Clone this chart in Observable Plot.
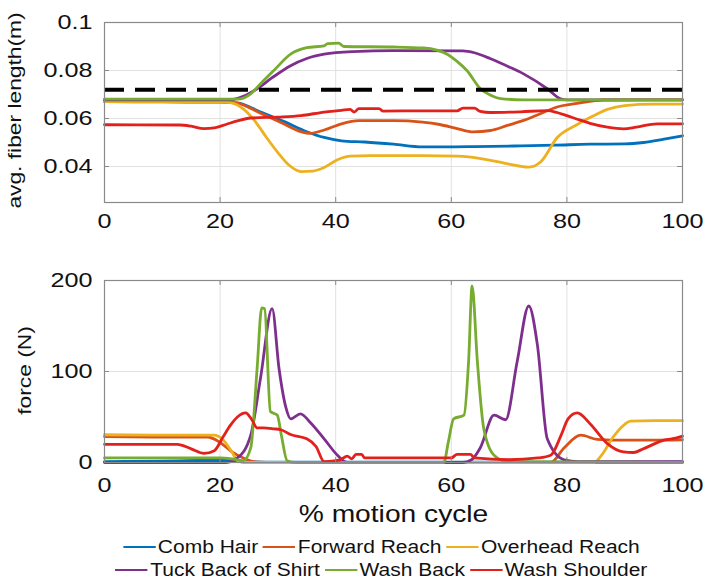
<!DOCTYPE html>
<html>
<head>
<meta charset="utf-8">
<script src="https://cdn.jsdelivr.net/npm/d3@7"></script>
<script src="https://cdn.jsdelivr.net/npm/@observablehq/plot@0.6"></script>
<style>
  html, body { margin: 0; padding: 0; background: #fff; }
  #page { position: relative; width: 705px; height: 581px; overflow: hidden; background: #fff; font-family: "Liberation Sans", Arial, sans-serif; }
  #page svg text { font-family: "Liberation Sans", Arial, sans-serif; fill: #111; }
  #top { position: absolute; left: 0; top: 0; }
  #bottom { position: absolute; left: 0; top: 240px; }
  .lrow { position: absolute; left: 0; width: 758px; height: 23px; display: flex; justify-content: center; align-items: center;
          transform: scaleX(1.2); transform-origin: 50% 50%; font-size: 17.5px; color: #111; white-space: nowrap; }
  .sw { display: inline-block; width: 27px; height: 2.5px; margin-right: 2px; margin-left: 4px; }
</style>
</head>
<body>
<div id="page">
  <div id="top"></div>
  <div id="bottom"></div>
  <div id="legend"></div>
</div>
<script>
// ---------- data ----------
const xTicks = [0, 20, 40, 60, 80, 100];
const fiberTicks = [0.04, 0.06, 0.08, 0.1];
const forceTicks = [0, 100, 200];
const fiberLabel = "avg. fiber length(m)";
const forceLabel = "force (N)";
const xLabel = "% motion cycle";
const threshold = 0.072;

const seriesNames = ["Comb Hair", "Forward Reach", "Overhead Reach", "Tuck Back of Shirt", "Wash Back", "Wash Shoulder"];
const seriesColors = ["#0072BD", "#D95319", "#EDB120", "#7E2F8E", "#77AC30", "#E3211C"];

// avg. fiber length (m) vs % motion cycle
const combHairFiber = [[0,0.0670],[10,0.0669],[20,0.0668],[23,0.0665],[27,0.0627],[31,0.0588],[35,0.0545],[38,0.0521],[41,0.0507],[45,0.0502],[50,0.0493],[55,0.0482],[60,0.0482],[64,0.0483],[72,0.0486],[78,0.0489],[84,0.0493],[90,0.0494],[93.3,0.0500],[96.8,0.0514],[100,0.0528]];
const forwardReachFiber = [[0,0.0672],[10,0.0672],[20,0.0671],[23,0.0664],[27,0.0622],[31,0.0578],[34,0.0545],[35.5,0.0538],[38,0.0552],[41,0.0578],[44,0.0591],[50,0.0591],[55,0.0585],[58,0.0575],[61,0.0558],[63.8,0.0544],[66.8,0.0550],[69.7,0.0571],[72.5,0.0592],[75.4,0.0620],[78.3,0.0648],[81.8,0.0663],[86.4,0.0677],[100,0.0678]];
const overheadReachFiber = [[0,0.0670],[10,0.0670],[20,0.0669],[22,0.0665],[24,0.0640],[26,0.0590],[28,0.0522],[30,0.0458],[32,0.0404],[34,0.0379],[36,0.0381],[38,0.0396],[40.3,0.0428],[42.6,0.0443],[46,0.0445],[55,0.0445],[61,0.0443],[63,0.0440],[66.8,0.0426],[70,0.0410],[73.3,0.0397],[75.5,0.0420],[78.3,0.0520],[81.8,0.0575],[84.7,0.0612],[87,0.0638],[90,0.0654],[95,0.0660],[100,0.0660]];
const tuckBackFiber = [[0,0.0678],[21.8,0.0678],[24,0.0692],[26.4,0.0724],[29,0.0770],[32.2,0.0820],[35,0.0850],[38,0.0868],[43,0.0879],[50,0.0883],[62,0.0882],[64,0.0874],[66.8,0.0849],[70,0.0815],[72.5,0.0786],[76.6,0.0724],[78.9,0.0682],[80,0.0678],[100,0.0678]];
const washBackFiber = [[0,0.0681],[23,0.0681],[25.3,0.0703],[27,0.0745],[29.3,0.0800],[32.2,0.0868],[35,0.0895],[38,0.0903],[38.6,0.0912],[40.5,0.0914],[41.4,0.0900],[50,0.0898],[55.2,0.0894],[57.5,0.0885],[59.3,0.0868],[61,0.0838],[62.7,0.0800],[65,0.0725],[67,0.0695],[68.5,0.0683],[72.5,0.0678],[100,0.0678]];
const washShoulderFiber = [[0,0.0574],[13,0.0573],[15,0.0568],[17.2,0.0558],[19,0.0561],[21,0.0575],[23,0.0590],[25.3,0.0602],[29.9,0.0606],[34,0.0612],[38,0.0627],[41,0.0634],[42.5,0.0638],[43.2,0.0627],[44,0.0641],[47.5,0.0641],[48.2,0.0631],[55,0.0632],[61,0.0632],[62,0.0643],[64,0.0643],[65,0.0630],[66.8,0.0625],[72,0.0628],[76.6,0.0633],[78.3,0.0625],[80,0.0612],[81.8,0.0597],[84,0.0580],[87,0.0564],[89.8,0.0557],[92,0.0564],[95.6,0.0578],[100,0.0578]];

// force (N) vs % motion cycle
const combHairForce = [[0,1],[10,1.5],[20,2.5],[24,1],[30,0.3],[100,0.3]];
const forwardReachForce = [[0,28.5],[10,28],[17.8,28],[20,22],[22,12],[24,5],[26.4,0.5],[30,0],[77.2,0],[79.5,16],[82.4,30],[85.2,25.5],[90,24.5],[95,24.5],[100,25]];
const overheadReachForce = [[0,30.5],[10,30],[18.9,30],[20.5,25],[22,12],[23,2],[24,0],[84.7,0],[86,8],[88,28],[90,42],[91,45.5],[95,46],[100,46]];
const tuckBackForce = [[0,0],[21,0],[23,5],[25.3,30],[27,93],[29,169],[30.2,103],[31.4,60],[32.2,48],[33.9,53.5],[35.6,44],[38,26],[40.3,8],[42,0],[62,0],[63.5,3],[65,16],[67.4,52],[69.4,47],[71.4,111],[73.4,172],[74.9,129],[76.6,26],[79.5,3],[82,1],[100,1]];
const washBackForce = [[0,5],[20,5],[22,4],[24,2],[25.3,16],[26.4,103],[27.2,170],[27.7,169],[28.7,56],[29.9,52],[30.6,30],[31.6,2],[33,0],[58.7,0],[59.5,23],[60.4,48],[62.2,52],[63,112],[63.6,194],[64.5,112],[65.6,38],[67.4,8],[69.7,1],[100,0]];
const washShoulderForce = [[0,20],[12.6,20],[15,15],[17.2,10],[19,13],[20.5,28],[21.8,41],[23,50],[24.4,54.5],[25.5,47],[26.4,38],[27.5,38],[29.3,37],[30.5,36],[32.2,30.7],[35,26],[36.6,17.6],[38,1],[40.8,3],[42,7],[42.8,4],[43.5,9],[44.5,9],[45,5],[50,5],[60,5],[61,9],[63.3,9],[64,5],[70,3],[75,5],[77.2,8],[79,30],[80.2,48],[81.8,54.5],[84,42.7],[87,20.8],[89.8,11.6],[91.5,11],[93.3,15.3],[96.8,24.6],[99,27],[100,29]];

const fiberSeries = [combHairFiber, forwardReachFiber, overheadReachFiber, tuckBackFiber, washBackFiber, washShoulderFiber];
const forceSeries = [combHairForce, forwardReachForce, overheadReachForce, tuckBackForce, washBackForce, washShoulderForce];

const toRows = (list) => list.flatMap((pts, i) => pts.map(([x, v]) => ({series: seriesNames[i], x, v})));
const fiberRows = toRows(fiberSeries);
const forceRows = toRows(forceSeries);

// ---------- helpers ----------
const frameColor = "#8a8a8a";
const gridColor = "#e1e1e1";
const TEXT_STRETCH = 1.2;

// widen glyphs about each text's own anchor (the text's transform ends at its anchor point)
function stretchText(svg, s) {
  svg.querySelectorAll("text").forEach((t) => {
    const tr = t.getAttribute("transform") || "";
    t.setAttribute("transform", `${tr} scale(${s},1)`.trim());
  });
}

function panel({rows, yDomain, yTicks, height, marginTop, marginBottom, yLabel, yLabelDx, yLabelDy, yLabelSize, xTickPad, extra}) {
  const W = 705, mL = 104, mR = 23;
  const plotW = W - mL - mR, plotH = height - marginTop - marginBottom;
  const tick = 5;
  return Plot.plot({
    width: W, height, marginLeft: mL, marginRight: mR, marginTop, marginBottom,
    x: {domain: [0, 100]},
    y: {domain: yDomain},
    color: {domain: seriesNames, range: seriesColors},
    style: {background: "transparent", overflow: "visible"},
    marks: [
      Plot.gridX(xTicks, {stroke: gridColor, strokeOpacity: 1, strokeWidth: 1}),
      Plot.gridY(yTicks, {stroke: gridColor, strokeOpacity: 1, strokeWidth: 1}),
      Plot.line(rows, {x: "x", y: "v", stroke: "series", strokeWidth: 2.8, curve: "monotone-x"}),
      ...(extra || []),
      Plot.ruleX(xTicks, {x: (d) => d, insetTop: plotH - tick, stroke: frameColor}),
      Plot.ruleX(xTicks, {x: (d) => d, insetBottom: plotH - tick, stroke: frameColor}),
      Plot.ruleY(yTicks, {y: (d) => d, insetRight: plotW - tick, stroke: frameColor}),
      Plot.ruleY(yTicks, {y: (d) => d, insetLeft: plotW - tick, stroke: frameColor}),
      Plot.frame({stroke: frameColor, strokeWidth: 1.2}),
      Plot.axisX(xTicks, {tickSize: 0, tickPadding: xTickPad, fontSize: 21, label: null}),
      Plot.axisY(yTicks, {tickSize: 0, tickPadding: 12, fontSize: 21, label: null, tickFormat: (d) => String(d)}),
      Plot.text([yLabel], {frameAnchor: "left", textAnchor: "middle", dx: yLabelDx, dy: yLabelDy, rotate: -90, fontSize: yLabelSize, text: (d) => d})
    ]
  });
}

// ---------- top panel ----------
const topSvg = panel({
  rows: fiberRows, yDomain: [0.025, 0.1], yTicks: fiberTicks,
  height: 240, marginTop: 22, marginBottom: 38,
  yLabel: fiberLabel, yLabelDx: -90, yLabelDy: -2, yLabelSize: 19, xTickPad: 11,
  extra: [Plot.ruleY([threshold], {y: (d) => d, stroke: "#000", strokeWidth: 4, strokeDasharray: "20,11"})]
});
stretchText(topSvg, TEXT_STRETCH);
document.getElementById("top").append(topSvg);

// ---------- bottom panel ----------
const bottomSvg = panel({
  rows: forceRows, yDomain: [0, 200], yTicks: forceTicks,
  height: 290, marginTop: 40, marginBottom: 68,
  yLabel: forceLabel, yLabelDx: -80, yLabelDy: -1, yLabelSize: 19, xTickPad: 15,
  extra: [Plot.text([xLabel], {frameAnchor: "bottom", textAnchor: "middle", dy: 43, lineAnchor: "top", fontSize: 23.5, text: (d) => d})]
});
stretchText(bottomSvg, TEXT_STRETCH);
document.getElementById("bottom").append(bottomSvg);

// ---------- legend ----------
const legend = document.getElementById("legend");
[[0, 3, 535.5], [3, 6, 558.5]].forEach(([a, b, top]) => {
  const row = document.createElement("div");
  row.className = "lrow";
  row.style.top = top + "px";
  for (let i = a; i < b; i++) {
    const sw = document.createElement("span");
    sw.className = "sw";
    sw.style.background = seriesColors[i];
    const tx = document.createElement("span");
    tx.textContent = seriesNames[i];
    row.append(sw, tx);
  }
  legend.append(row);
});
</script>
</body>
</html>
